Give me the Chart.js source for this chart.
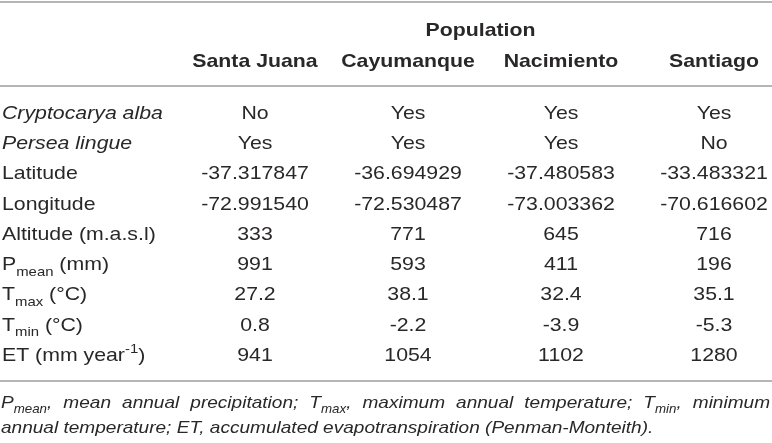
<!DOCTYPE html>
<html>
<head>
<meta charset="utf-8">
<script src="https://cdn.jsdelivr.net/npm/chart.js@4.4.1/dist/chart.umd.min.js"></script>
<style>
  html, body { margin: 0; padding: 0; background: #fff; }
  #wrap { width: 772px; height: 443px; position: relative; }
</style>
</head>
<body>
<div id="wrap"><canvas id="tbl"></canvas></div>
<script>
// table data
const populations = ['Santa Juana', 'Cayumanque', 'Nacimiento', 'Santiago'];
const rowLabels = ['*Cryptocarya alba*', '*Persea lingue*', 'Latitude', 'Longitude', 'Altitude (m.a.s.l)',
                   'P_{mean} (mm)', 'T_{max} (°C)', 'T_{min} (°C)', 'ET (mm year^{-1})'];
const cryptocaryaAlba = ['No', 'Yes', 'Yes', 'Yes'];
const perseaLingue = ['Yes', 'Yes', 'Yes', 'No'];
const latitude = [-37.317847, -36.694929, -37.480583, -33.483321];
const longitude = [-72.991540, -72.530487, -73.003362, -70.616602];
const altitude = [333, 771, 645, 716];
const pMean = [991, 593, 411, 196];
const tMax = [27.2, 38.1, 32.4, 35.1];
const tMin = [0.8, -2.2, -3.9, -5.3];
const et = [941, 1054, 1102, 1280];
const footnote = [
  'P_{mean}, mean annual precipitation; T_{max}, maximum annual temperature; T_{min}, minimum',
  'annual temperature; ET, accumulated evapotranspiration (Penman-Monteith).'
];

const cells = [
  cryptocaryaAlba,
  perseaLingue,
  latitude.map(v => v.toFixed(6)),
  longitude.map(v => v.toFixed(6)),
  altitude.map(String),
  pMean.map(String),
  tMax.map(v => v.toFixed(1)),
  tMin.map(v => v.toFixed(1)),
  et.map(String)
];

const FONT = '"Liberation Sans", Arial, sans-serif';
const INK = '#2a2728';
const RULE = '#9d9d9d';
const SX = 1.12; // glyphs in the source are a bit wide

function parseRich(s) {
  const segs = [];
  let italic = false, buf = '', i = 0;
  const push = (t, mode) => { if (t) segs.push({ t, mode, italic }); };
  while (i < s.length) {
    const c = s[i];
    if (c === '*') { push(buf, 'n'); buf = ''; italic = !italic; i++; }
    else if ((c === '_' || c === '^') && s[i + 1] === '{') {
      push(buf, 'n'); buf = '';
      const end = s.indexOf('}', i);
      push(s.slice(i + 2, end), c === '_' ? 'sub' : 'sup');
      i = end + 1;
    } else { buf += c; i++; }
  }
  push(buf, 'n');
  return segs;
}

function segFont(seg, base) {
  const size = seg.mode === 'n' ? base.size : base.size * 0.7;
  return (seg.italic || base.italic ? 'italic ' : '') + (base.weight || 'normal') + ' ' + size + 'px ' + FONT;
}

function richWidth(ctx, segs, base) {
  let w = 0;
  segs.forEach(s => { ctx.font = segFont(s, base); w += ctx.measureText(s.t).width; });
  return w * SX;
}

// y is the visual middle of the capitals
function drawRich(ctx, spec, x, y, align, base) {
  const segs = typeof spec === 'string' ? parseRich(spec) : spec;
  const w = richWidth(ctx, segs, base);
  let x0 = align === 'center' ? x - w / 2 : align === 'right' ? x - w : x;
  const baseline = y + base.size * 0.36;
  ctx.save();
  ctx.translate(x0, baseline);
  ctx.scale(SX, 1);
  ctx.fillStyle = INK;
  ctx.textAlign = 'left';
  ctx.textBaseline = 'alphabetic';
  let cx = 0;
  segs.forEach(s => {
    ctx.font = segFont(s, base);
    const dy = s.mode === 'sub' ? base.size * 0.3 : s.mode === 'sup' ? -base.size * 0.4 : 0;
    ctx.fillText(s.t, cx, dy);
    cx += ctx.measureText(s.t).width;
  });
  ctx.restore();
  return w;
}

function drawJustified(ctx, line, x, y, width, base, justify) {
  const words = line.split(' ').map(wd => parseRich(wd));
  const widths = words.map(wd => richWidth(ctx, wd, base));
  const total = widths.reduce((a, b) => a + b, 0);
  ctx.font = segFont({ mode: 'n' }, base);
  const space = justify ? (width - total) / (words.length - 1) : ctx.measureText(' ').width * SX;
  let cx = x;
  words.forEach((wd, i) => { drawRich(ctx, wd, cx, y, 'left', base); cx += widths[i] + space; });
}

function hline(ctx, y, x1, x2) {
  ctx.save();
  ctx.strokeStyle = RULE;
  ctx.lineWidth = 1.6;
  ctx.beginPath();
  ctx.moveTo(x1, y);
  ctx.lineTo(x2, y);
  ctx.stroke();
  ctx.restore();
}

const tablePlugin = {
  id: 'tableText',
  afterDatasetsDraw(chart) {
    const ctx = chart.ctx;
    const xs = chart.scales.x, ys = chart.scales.y;
    const area = chart.chartArea;
    const W = chart.width;
    const body = { size: 19 };
    const head = { size: 19, weight: 'bold' };

    // rules
    hline(ctx, area.top - 110, 0, W);
    hline(ctx, area.top - 26, 0, W);
    hline(ctx, area.bottom + 27, 0, W);

    // headers
    drawRich(ctx, 'Population', (xs.left + xs.right) / 2 - 4, area.top - 83, 'center', head);
    populations.forEach(p => drawRich(ctx, p, xs.getPixelForValue(populations.indexOf(p)), area.top - 52, 'center', head));

    // row labels
    rowLabels.forEach((r, i) => drawRich(ctx, r, 2, ys.getPixelForValue(i), 'left', body));

    // cells, placed at the points the scales produced
    chart.data.datasets.forEach((ds, j) => {
      const meta = chart.getDatasetMeta(j);
      meta.data.forEach((pt, i) => drawRich(ctx, ds.data[i].text, pt.x, pt.y, 'center', body));
    });

    // footnote
    const fn = { size: 17, italic: true };
    drawJustified(ctx, footnote[0], 1, area.bottom + 48, W - 3, fn, true);
    drawJustified(ctx, footnote[1], 1, area.bottom + 73, W - 3, fn, false);
  }
};

new Chart(document.getElementById('tbl'), {
  type: 'line',
  data: {
    datasets: populations.map((p, j) => ({
      label: p,
      data: rowLabels.map((r, i) => ({ x: p, y: r, text: cells[i][j] })),
      pointRadius: 0,
      pointHoverRadius: 0,
      showLine: false
    }))
  },
  options: {
    responsive: true,
    maintainAspectRatio: false,
    animation: false,
    events: [],
    layout: { padding: { left: 255, right: 58, top: 112, bottom: 89 } },
    scales: {
      x: { type: 'category', labels: populations, offset: false, display: false },
      y: { type: 'category', labels: rowLabels, offset: false, display: false }
    },
    plugins: { legend: { display: false }, tooltip: { enabled: false } }
  },
  plugins: [tablePlugin]
});
</script>
</body>
</html>
